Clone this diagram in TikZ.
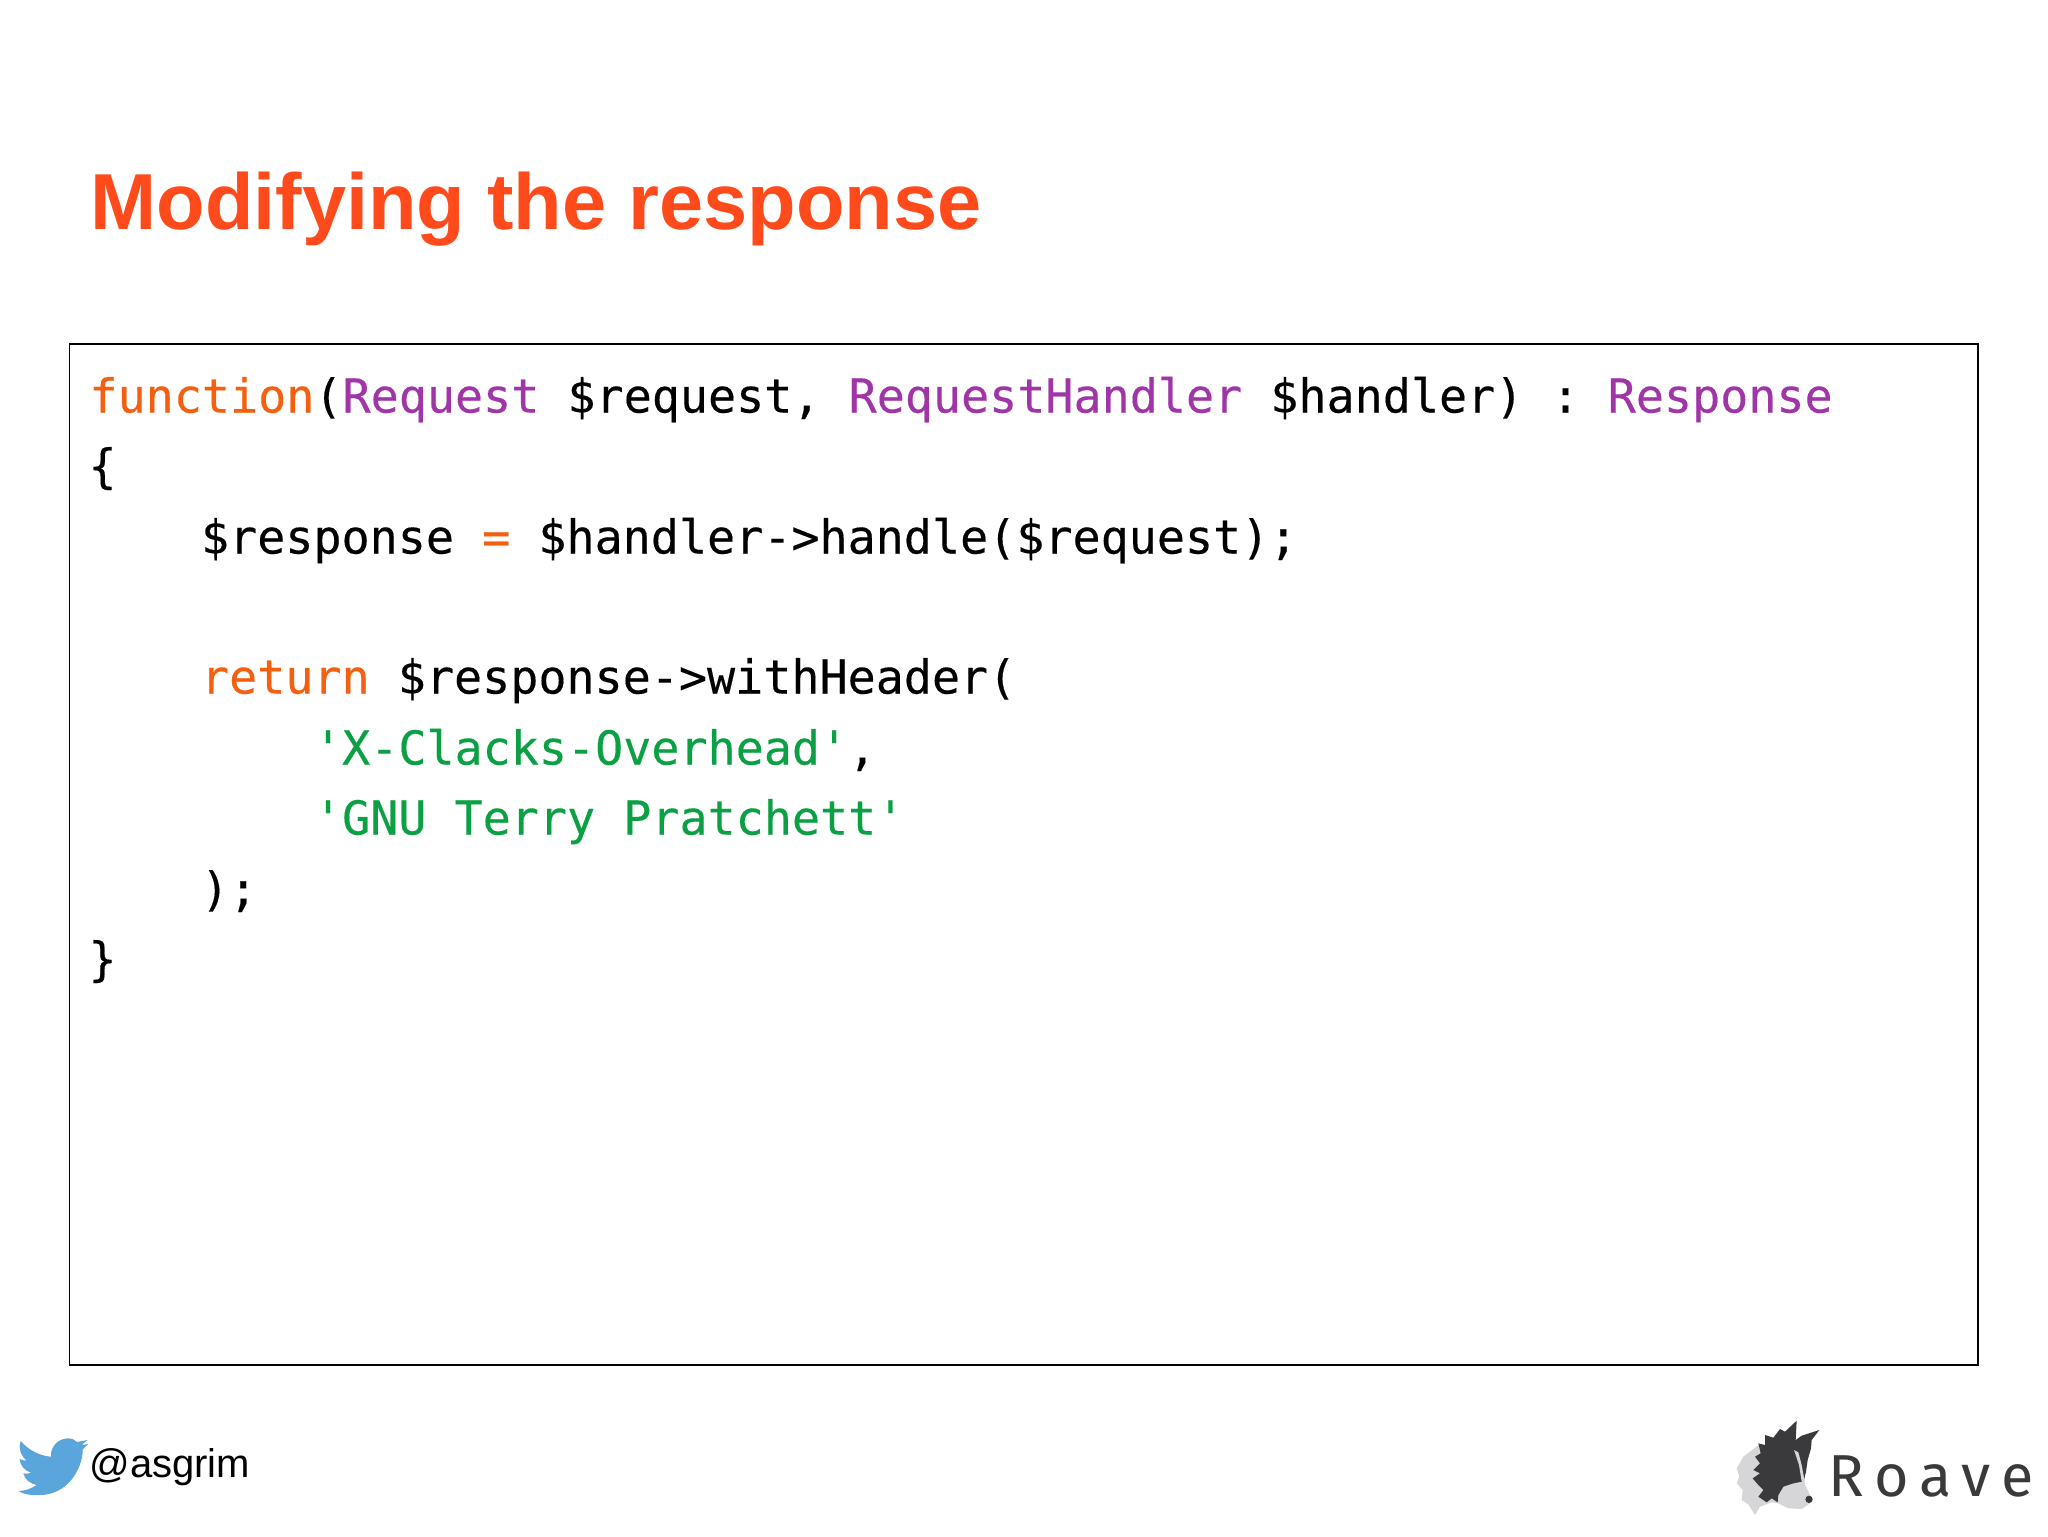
\documentclass[tikz,border=0pt]{standalone}
\usepackage{fontspec}
\setmainfont{Liberation Sans}
\setmonofont[FakeBold=0.3]{DejaVu Sans Mono}
\newfontfamily\roavefont[LetterSpace=18.5]{Fira Sans}
\definecolor{titlecol}{HTML}{FF4A1C}
\definecolor{kw}{HTML}{F4600F}
\definecolor{ty}{HTML}{A035A8}
\definecolor{st}{HTML}{0BA043}
\definecolor{bird}{HTML}{5AA5DC}
\definecolor{dogdark}{HTML}{3A393B}
\definecolor{doglight}{HTML}{D6D6D8}
\tikzset{
  codeline/.style={anchor=base west,inner sep=0pt,outer sep=0pt,font=\fontsize{23.35}{28}\ttfamily,text=black},
  titletext/.style={anchor=base west,inner sep=0pt,font=\fontsize{39.7}{48}\bfseries\selectfont,text=titlecol},
  handle/.style={anchor=base west,inner sep=0pt,font=\fontsize{20}{24}\selectfont,text=black},
  roave/.style={anchor=base west,inner sep=0pt,font=\fontsize{29.6}{34}\roavefont,text=dogdark}
}
\begin{document}
\begin{tikzpicture}[x=0.5pt,y=-0.5pt]
\useasboundingbox (0,0) rectangle (2048,1536);
\fill[white] (0,0) rectangle (2048,1536);
\node[titletext] (title) at (90,229) {Modifying the response};
\draw[line width=0.9pt,black] (69.5,344) rectangle (1978,1365);
\node[codeline] (l1) at (89.5,412.5) {\textcolor{kw}{function}(\textcolor{ty}{Request} \$request, \textcolor{ty}{RequestHandler} \$handler) : \textcolor{ty}{Response}};
\node[codeline] (l2) at (88.5,482.5) {\{};
\node[codeline] (l3) at (201,553.5) {\$response \textcolor{kw}{=} \$handler->handle(\$request);};
\node[codeline] (l4) at (201,693.5) {\textcolor{kw}{return} \$response->withHeader(};
\node[codeline] (l5) at (314,764.5) {\textcolor{st}{'X-Clacks-Overhead'},};
\node[codeline] (l6) at (314,834.5) {\textcolor{st}{'GNU Terry Pratchett'}};
\node[codeline] (l7) at (201,905.5) {);};
\node[codeline] (l8) at (88.5,975.5) {\}};
\node[handle] (h) at (89,1477) {@asgrim};
\node[roave] (r) at (1828,1496) {Roave};
% bird
\begin{scope}[shift={(15,1430)},x=1/6 pt,y=-1/6 pt]
\fill[bird] (17,33) .. controls (40,60) and (75,78) .. (108,80) .. controls (105,50) and (130,25) .. (160,25)
 .. controls (172,25) and (180,30) .. (186,36) -- (217,30) -- (200,45) -- (220,42) -- (203,58)
 .. controls (205,100) and (170,190) .. (80,195) .. controls (60,197) and (30,195) .. (10,183)
 .. controls (30,183) and (50,175) .. (65,165) .. controls (45,160) and (30,150) .. (25,130)
 .. controls (32,132) and (40,132) .. (48,128) .. controls (28,122) and (15,105) .. (14,87)
 .. controls (20,90) and (28,92) .. (35,92) .. controls (15,75) and (10,50) .. (17,33) -- cycle;
\end{scope}
% dog
\begin{scope}[shift={(1730,1415)},x=1/6 pt,y=-1/6 pt]
\fill[doglight] (85,90) -- (60,110) -- (40,125) -- (20,160) -- (28,185) -- (20,205) -- (38,225) -- (35,255) -- (55,268) -- (75,300) -- (90,275) -- (125,262) -- (145,265) -- (175,280) -- (215,282) -- (240,265) -- (245,250) -- (225,210) -- (222,190) -- (150,200) -- cycle;
\fill[dogdark] (200,17) -- (197,75) -- (215,62) -- (268,45) -- (245,75) -- (243,100) -- (233,135) -- (228,170) -- (222,195) -- (215,200) -- (190,205) -- (160,215) -- (145,240) -- (143,262) -- (125,250) -- (110,262) -- (85,245) -- (100,225) -- (85,210) -- (68,190) -- (90,175) -- (70,165) -- (90,145) -- (75,125) -- (92,115) -- (85,85) -- (105,90) -- (105,60) -- (130,68) -- (150,42) -- (165,50) -- cycle;
\fill[doglight] (192,105) -- (205,112) -- (215,150) -- (224,200) -- (215,200) -- (207,150) -- cycle;
\fill[dogdark] (237,253) ellipse [x radius=11,y radius=11];
\end{scope}
\end{tikzpicture}
\end{document}
